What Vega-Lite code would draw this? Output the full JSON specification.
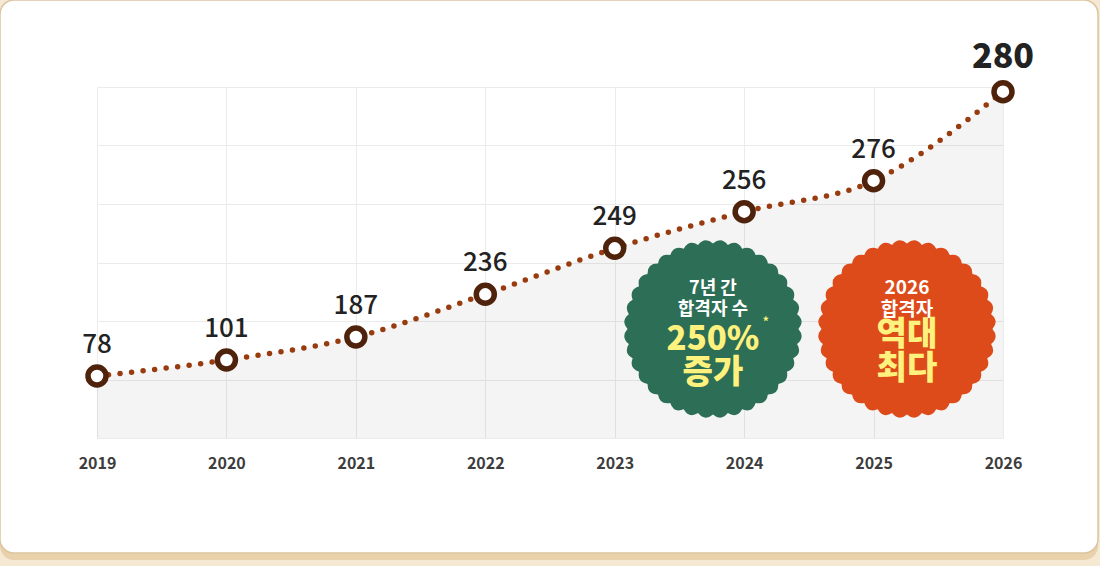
{
  "$schema": "https://vega.github.io/schema/vega-lite/v6.json",
  "width": 906,
  "height": 351,
  "autosize": {"type": "none"},
  "padding": {"left": 97, "top": 87, "right": 97, "bottom": 128},
  "background": "#ffffff",
  "config": {"view": {"stroke": null}, "font": "Noto Sans CJK KR"},
  "resolve": {"scale": {"y": "independent"}, "axis": {"y": "independent"}},
  "layer": [
    {
      "data": {"values": [{}]},
      "layer": [
        {
          "mark": {"type": "rect", "filled": false, "stroke": "#e8d1ab", "strokeWidth": 40, "cornerRadius": 34},
          "encoding": {
            "x": {"datum": 2018.096, "type": "quantitative",
              "scale": {"domain": [2019, 2026], "nice": false, "zero": false},
              "axis": {"values": [2019, 2020, 2021, 2022, 2023, 2024, 2025, 2026], "format": "d", "grid": true, "gridColor": "#ebebeb", "gridWidth": 1, "ticks": false, "domain": false, "labelPadding": 17, "labelFontSize": 16, "labelFontWeight": 700, "labelColor": "#3d3d3d", "labelFont": "Noto Sans CJK KR", "labelFlush": false, "labelOverlap": false, "labelBound": false, "title": null}},
            "x2": {"datum": 2026.8885},
            "y": {"datum": 7.8291, "type": "quantitative",
              "scale": {"domain": [0, 6], "nice": false, "zero": false},
              "axis": {"values": [0, 1, 2, 3, 4, 5, 6], "grid": true, "gridColor": "#ebebeb", "gridWidth": 1, "labels": false, "ticks": false, "domain": false, "title": null}},
            "y2": {"datum": -2.3077}
          }
        },
        {
          "mark": {"type": "rect", "filled": false, "stroke": "#f5e9d4", "strokeWidth": 40, "cornerRadius": 34},
          "encoding": {
            "x": {"datum": 2018.096, "type": "quantitative"},
            "x2": {"datum": 2026.8885},
            "y": {"datum": 7.8291, "type": "quantitative"},
            "y2": {"datum": -2.4274}
          }
        },
        {
          "mark": {"type": "rect", "filled": false, "stroke": "#dcc5a0", "strokeWidth": 1.5, "cornerRadius": 14},
          "encoding": {
            "x": {"datum": 2018.2506, "type": "quantitative"},
            "x2": {"datum": 2026.734},
            "y": {"datum": 7.4872, "type": "quantitative"},
            "y2": {"datum": -1.9658}
          }
        }
      ]
    },
    {
      "data": {"values": [
        {"year": 2019, "count": 78},
        {"year": 2020, "count": 101},
        {"year": 2021, "count": 187},
        {"year": 2022, "count": 236},
        {"year": 2023, "count": 249},
        {"year": 2024, "count": 256},
        {"year": 2025, "count": 276},
        {"year": 2026, "count": 280}
      ]},
      "encoding": {
        "x": {"field": "year", "type": "quantitative", "title": null},
        "y": {"field": "count", "type": "quantitative",
          "scale": {"domain": [0, 78, 101, 187, 236, 249, 256, 276, 280], "range": [351, 289, 273, 250, 207.3, 161.3, 124.7, 93.7, 4.7], "nice": false, "zero": false},
          "axis": null}
      },
      "layer": [
        {"mark": {"type": "area", "interpolate": "monotone", "fill": "#000000", "fillOpacity": 0.045}, "encoding": {"y2": {"datum": 0}}},
        {"mark": {"type": "line", "interpolate": "monotone", "stroke": "#983b0e", "strokeWidth": 5.5, "strokeDash": [0, 11.6], "strokeCap": "round"}},
        {"mark": {"type": "point", "shape": "circle", "size": 324, "filled": true, "fill": "#ffffff", "stroke": "#4f220b", "strokeWidth": 5.5, "opacity": 1}},
        {"transform": [{"filter": "datum.year < 2026"}],
          "mark": {"type": "text", "dy": -23, "baseline": "alphabetic", "fontSize": 26, "fontWeight": 500, "fill": "#222222"},
          "encoding": {"text": {"field": "count"}}},
        {"transform": [{"filter": "datum.year == 2026"}],
          "mark": {"type": "text", "dy": -24, "baseline": "alphabetic", "fontSize": 34, "fontWeight": 800, "fill": "#222222"},
          "encoding": {"text": {"field": "count"}}}
      ]
    },
    {
      "data": {"values": [{}]},
      "encoding": {
        "y": {"type": "quantitative", "scale": {"domain": [0, 6], "nice": false, "zero": false}, "axis": null}
      },
      "layer": [
        {"mark": {"type": "point", "shape": "M0.96,0Q1.04,0.091,0.945,0.167Q1.008,0.27,0.902,0.328Q0.946,0.441,0.831,0.48Q0.855,0.599,0.735,0.617Q0.738,0.738,0.617,0.735Q0.599,0.855,0.48,0.831Q0.441,0.946,0.328,0.902Q0.27,1.008,0.167,0.945Q0.091,1.04,0,0.96Q-0.091,1.04,-0.167,0.945Q-0.27,1.008,-0.328,0.902Q-0.441,0.946,-0.48,0.831Q-0.599,0.855,-0.617,0.735Q-0.738,0.738,-0.735,0.617Q-0.855,0.599,-0.831,0.48Q-0.946,0.441,-0.902,0.328Q-1.008,0.27,-0.945,0.167Q-1.04,0.091,-0.96,0Q-1.04,-0.091,-0.945,-0.167Q-1.008,-0.27,-0.902,-0.328Q-0.946,-0.441,-0.831,-0.48Q-0.855,-0.599,-0.735,-0.617Q-0.738,-0.738,-0.617,-0.735Q-0.599,-0.855,-0.48,-0.831Q-0.441,-0.946,-0.328,-0.902Q-0.27,-1.008,-0.167,-0.945Q-0.091,-1.04,0,-0.96Q0.091,-1.04,0.167,-0.945Q0.27,-1.008,0.328,-0.902Q0.441,-0.946,0.48,-0.831Q0.599,-0.855,0.617,-0.735Q0.738,-0.738,0.735,-0.617Q0.855,-0.599,0.831,-0.48Q0.946,-0.441,0.902,-0.328Q1.008,-0.27,0.945,-0.167Q1.04,-0.091,0.96,0Z", "size": 31684, "filled": true, "fill": "#2c6e56", "strokeWidth": 0, "opacity": 1},
          "encoding": {"x": {"datum": 2023.759, "type": "quantitative"}, "y": {"datum": 1.863, "type": "quantitative"}}},
        {"mark": {"type": "point", "shape": "M0.96,0Q1.04,0.091,0.945,0.167Q1.008,0.27,0.902,0.328Q0.946,0.441,0.831,0.48Q0.855,0.599,0.735,0.617Q0.738,0.738,0.617,0.735Q0.599,0.855,0.48,0.831Q0.441,0.946,0.328,0.902Q0.27,1.008,0.167,0.945Q0.091,1.04,0,0.96Q-0.091,1.04,-0.167,0.945Q-0.27,1.008,-0.328,0.902Q-0.441,0.946,-0.48,0.831Q-0.599,0.855,-0.617,0.735Q-0.738,0.738,-0.735,0.617Q-0.855,0.599,-0.831,0.48Q-0.946,0.441,-0.902,0.328Q-1.008,0.27,-0.945,0.167Q-1.04,0.091,-0.96,0Q-1.04,-0.091,-0.945,-0.167Q-1.008,-0.27,-0.902,-0.328Q-0.946,-0.441,-0.831,-0.48Q-0.855,-0.599,-0.735,-0.617Q-0.738,-0.738,-0.617,-0.735Q-0.599,-0.855,-0.48,-0.831Q-0.441,-0.946,-0.328,-0.902Q-0.27,-1.008,-0.167,-0.945Q-0.091,-1.04,0,-0.96Q0.091,-1.04,0.167,-0.945Q0.27,-1.008,0.328,-0.902Q0.441,-0.946,0.48,-0.831Q0.599,-0.855,0.617,-0.735Q0.738,-0.738,0.735,-0.617Q0.855,-0.599,0.831,-0.48Q0.946,-0.441,0.902,-0.328Q1.008,-0.27,0.945,-0.167Q1.04,-0.091,0.96,0Z", "size": 31684, "filled": true, "fill": "#dd4b1a", "strokeWidth": 0, "opacity": 1},
          "encoding": {"x": {"datum": 2025.258, "type": "quantitative"}, "y": {"datum": 1.863, "type": "quantitative"}}},
        {"mark": {"type": "text", "text": ["7년 간", "합격자 수"], "lineHeight": 21.5, "fontSize": 18, "fontWeight": 700, "fill": "#ffffff", "baseline": "middle", "align": "center"},
          "encoding": {"x": {"datum": 2023.759, "type": "quantitative"}, "y": {"datum": 2.554, "type": "quantitative"}}},
        {"mark": {"type": "text", "text": ["250%", "증가"], "lineHeight": 33, "fontSize": 33, "fontWeight": 900, "fill": "#fff17d", "baseline": "middle", "align": "center"},
          "encoding": {"x": {"datum": 2023.759, "type": "quantitative"}, "y": {"datum": 1.68, "type": "quantitative"}}},
        {"mark": {"type": "text", "text": "*", "fontSize": 12, "fontWeight": 700, "fill": "#fff17d", "baseline": "middle", "align": "center"},
          "encoding": {"x": {"datum": 2024.168, "type": "quantitative"}, "y": {"datum": 1.99, "type": "quantitative"}}},
        {"mark": {"type": "text", "text": ["2026", "합격자"], "lineHeight": 22, "fontSize": 19, "fontWeight": 700, "fill": "#ffffff", "baseline": "middle", "align": "center"},
          "encoding": {"x": {"datum": 2025.258, "type": "quantitative"}, "y": {"datum": 2.564, "type": "quantitative"}}},
        {"mark": {"type": "text", "text": ["역대", "최다"], "lineHeight": 34, "fontSize": 33, "fontWeight": 900, "fill": "#fff17d", "baseline": "middle", "align": "center"},
          "encoding": {"x": {"datum": 2025.258, "type": "quantitative"}, "y": {"datum": 1.76, "type": "quantitative"}}}
      ]
    }
  ]
}
